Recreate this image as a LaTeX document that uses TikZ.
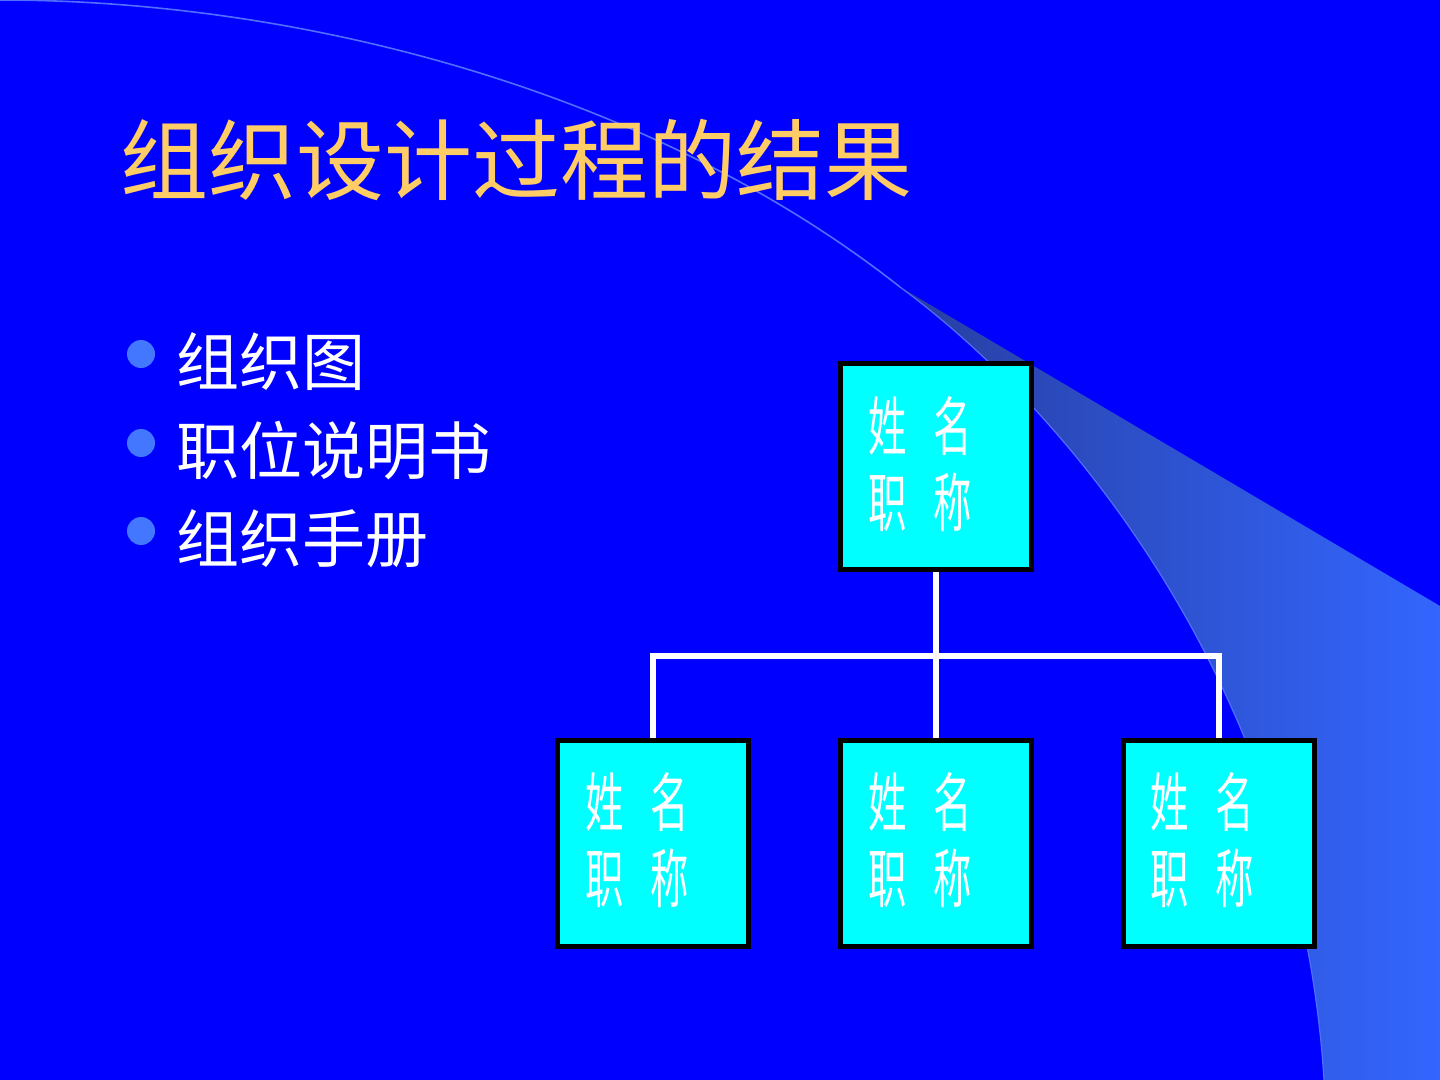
\documentclass[tikz,border=0pt]{standalone}
\usepackage{fontspec}
\newfontfamily\cjk{Noto Sans CJK SC}
\definecolor{bgblue}{HTML}{0000FF}
\definecolor{swL}{RGB}{40,62,160}
\definecolor{swR}{RGB}{51,102,255}
\definecolor{hiline}{RGB}{80,110,255}
\definecolor{titlec}{HTML}{FFCC66}
\definecolor{bulletc}{HTML}{4477FF}
\definecolor{boxfill}{HTML}{00FFFF}
\tikzset{
  orgbox/.style={draw=black, line width=2.5pt, fill=boxfill, inner sep=0pt,
    minimum width=95.5pt, minimum height=103pt},
  boxtext/.style={text=white, inner sep=0pt, xscale=0.6, transform shape,
    font=\cjk\fontsize{32}{37.5}\selectfont},
  conn/.style={draw=white, line width=3pt, line join=miter},
  bulletdot/.style={circle, fill=bulletc, inner sep=0pt, minimum size=14pt},
  bullettext/.style={text=white, inner sep=0pt, anchor=base west,
    font=\cjk\fontsize{31.5}{36}\selectfont},
  titletext/.style={text=titlec, inner sep=0pt, anchor=base west,
    font=\cjk\fontsize{44}{50}\selectfont}
}
\newcommand{\namebox}{\begin{tabular}{@{}l@{\hspace{22pt}}l@{}}姓&名\\职&称\end{tabular}}
\begin{document}
\begin{tikzpicture}[x=0.5pt,y=-0.5pt]
\useasboundingbox (0,0) rectangle (1440,1080);
\fill[bgblue] (0,0) rectangle (1440,1080);
% swoosh
\shade[left color=swL, right color=swR] (900,287) -- (1440,606) -- (1440,1080) -- (1324,1080)
  .. controls (1300,700) and (1080,420) .. (900,287) -- cycle;
\draw[hiline, line width=0.8pt] (0,0) .. controls (300,0) and (650,90) .. (900,287);
\draw[hiline, line width=0.6pt] (900,287) .. controls (1080,420) and (1300,700) .. (1324,1080);
% title
\node[titletext] (title) at (120,194) {组织设计过程的结果};
% bullets
\node[bulletdot] (d1) at (141,354) {};
\node[bulletdot] (d2) at (141,443) {};
\node[bulletdot] (d3) at (141,531) {};
\node[bullettext] (l1) at (176,386) {组织图};
\node[bullettext] (l2) at (176,474) {职位说明书};
\node[bullettext] (l3) at (176,562) {组织手册};
% org chart
\node[orgbox] (top) at (936,466.5) {};
\node[orgbox] (b1) at (653,843) {};
\node[orgbox] (b2) at (936,843) {};
\node[orgbox] (b3) at (1218.5,843) {};
\coordinate (bus) at (936,656);
\draw[conn] (top.south) -- (b2.north);
\draw[conn] (b1.north) -- (b1.north |- bus) -| (b3.north);
\node[boxtext] (t0) at ([shift={(-16,6)}]top.center) {\namebox};
\node[boxtext] (t1) at ([shift={(-16,6)}]b1.center) {\namebox};
\node[boxtext] (t2) at ([shift={(-16,6)}]b2.center) {\namebox};
\node[boxtext] (t3) at ([shift={(-16,6)}]b3.center) {\namebox};
\end{tikzpicture}
\end{document}
